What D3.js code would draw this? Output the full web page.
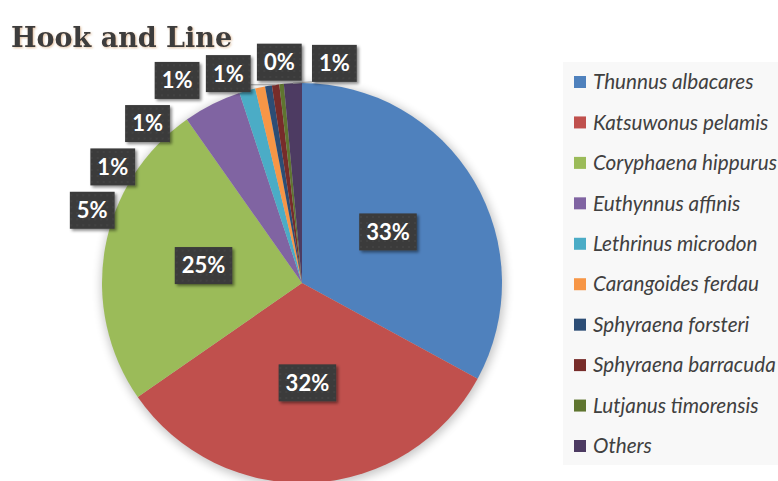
<!DOCTYPE html>
<html>
<head>
<meta charset="utf-8">
<script src="https://cdn.jsdelivr.net/npm/d3@7"></script>
<style>
  body { margin: 0; background: #fff; }
  svg { display: block; }
</style>
</head>
<body>
<div id="graph"><svg></svg></div>
<script>
// data (percent of catch)
let species = ["Thunnus albacares", "Katsuwonus pelamis", "Coryphaena hippurus",
  "Euthynnus affinis", "Lethrinus microdon", "Carangoides ferdau",
  "Sphyraena forsteri", "Sphyraena barracuda", "Lutjanus timorensis", "Others"];
let shares = [32.94, 32.4, 24.9, 4.7, 1.3, 0.8, 0.55, 0.6, 0.36, 1.45];
let colors = ["#4F81BD", "#C0504D", "#9BBB59", "#8064A2", "#4BACC6",
  "#F79646", "#2C4D75", "#772C2A", "#5F7530", "#4D3B62"];
let title = "Hook and Line";

let width = 778, height = 481;
let cx = 302, cy = 283, radius = 200;

let svg = d3.select("div#graph svg")
  .attr("width", width)
  .attr("height", height);

let defs = svg.append("defs");

// dotted dark fill for the data label boxes
let pat = defs.append("pattern")
  .attr("id", "dots")
  .attr("width", 6).attr("height", 6)
  .attr("patternUnits", "userSpaceOnUse");
pat.append("rect").attr("width", 6).attr("height", 6).attr("fill", "#3a3a3a");
pat.append("circle").attr("cx", 3).attr("cy", 3).attr("r", 0.8).attr("fill", "#4d4d4d");

let shadow = defs.append("filter").attr("id", "shadow")
  .attr("x", "-30%").attr("y", "-30%").attr("width", "160%").attr("height", "160%");
shadow.append("feDropShadow")
  .attr("dx", 2).attr("dy", 2).attr("stdDeviation", 1.8)
  .attr("flood-color", "#000").attr("flood-opacity", 0.45);

let glow = defs.append("filter").attr("id", "glow")
  .attr("x", "-20%").attr("y", "-20%").attr("width", "140%").attr("height", "140%");
glow.append("feGaussianBlur").attr("stdDeviation", 5);

let titleShadow = defs.append("filter").attr("id", "tshadow");
titleShadow.append("feDropShadow")
  .attr("dx", 1).attr("dy", 1).attr("stdDeviation", 0.8)
  .attr("flood-color", "#c08040").attr("flood-opacity", 0.5);

// title
svg.append("text")
  .attr("x", 11)
  .attr("y", 47)
  .style("font-family", "'DejaVu Serif', serif")
  .style("font-weight", "bold")
  .style("font-size", "27px")
  .style("fill", "#3c3c3c")
  .attr("filter", "url(#tshadow)")
  .text(title);

// legend
let legend = svg.append("g").attr("transform", "translate(563,62)");
legend.append("rect")
  .attr("width", width - 563)
  .attr("height", 403)
  .attr("fill", "#f8f8f8");

let rowScale = d3.scalePoint()
  .domain(species)
  .range([20, 384]);

let rows = legend.selectAll("g.row")
  .data(species)
  .enter()
  .append("g")
  .attr("class", "row")
  .attr("transform", (d) => "translate(0," + rowScale(d) + ")");

rows.append("rect")
  .attr("x", 11).attr("y", -6)
  .attr("width", 12).attr("height", 12)
  .attr("fill", (d, i) => colors[i]);

rows.append("text")
  .attr("x", 30)
  .attr("dy", "0.35em")
  .style("font-family", "Lato, sans-serif")
  .style("font-style", "italic")
  .style("font-size", "20.7px")
  .style("fill", "#404040")
  .text((d) => d);

// pie
let pie = d3.pie().sort(null).value((d) => d)(shares);
let total = d3.sum(shares);
let arc = d3.arc().innerRadius(0).outerRadius(radius);
let fmt = (v) => Math.round(v / total * 100) + "%";

let plot = svg.append("g").attr("transform", "translate(" + cx + "," + cy + ")");

plot.append("circle")
  .attr("r", radius + 2)
  .attr("cx", 1).attr("cy", 2)
  .attr("fill", "#000")
  .attr("opacity", 0.22)
  .attr("filter", "url(#glow)");

plot.selectAll("path.slice")
  .data(pie)
  .enter()
  .append("path")
  .attr("class", "slice")
  .attr("d", arc)
  .attr("fill", (d, i) => colors[i]);

// data label boxes
let padX = 7, boxH = 37, fontPx = 22;
let measure = svg.append("text")
  .style("font-family", "Lato, sans-serif")
  .style("font-weight", "bold")
  .style("font-size", fontPx + "px");

let labels = pie.map((d, i) => {
  measure.text(fmt(d.value));
  let w = measure.node().getComputedTextLength() + 2 * padX;
  return { d: d, i: i, text: fmt(d.value), w: w, h: boxH,
    mid: (d.startAngle + d.endAngle) / 2 };
});
measure.remove();

// big slices: label at the centroid
labels.filter((l) => l.d.value / total >= 0.1).forEach((l) => {
  let c = arc.centroid(l.d);
  l.x = c[0]; l.y = c[1];
});

// small slices: best-fit outside, walking counter-clockwise from the top
let small = labels.filter((l) => l.d.value / total < 0.1).reverse();
let deg = Math.PI / 180, gap = 6, placed = [];
function overlaps(a, b) {
  return Math.abs(a.x - b.x) < (a.w + b.w) / 2 + gap && Math.abs(a.y - b.y) < (a.h + b.h) / 2 + gap;
}
small.forEach((l, k) => {
  let start = (k === 0 ? l.mid + 11 * deg : l.mid) - 2 * Math.PI;
  let best = null;
  [222, 230, 238].forEach((r) => {
    let a = start;
    let p = { w: l.w, h: l.h, x: r * Math.sin(a), y: -r * Math.cos(a) };
    while (placed.some((q) => overlaps(p, q))) {
      a -= 0.2 * deg;
      p.x = r * Math.sin(a); p.y = -r * Math.cos(a);
    }
    let cost = (start - a) / deg + (r - 222) * 0.1;
    if (!best || cost < best.cost) best = { cost: cost, x: p.x, y: p.y };
  });
  l.x = best.x; l.y = best.y;
  placed.push(l);
});

// leader lines for labels that sit a little off their slice
small.forEach((l) => {
  let ex = radius * Math.sin(l.mid), ey = -radius * Math.cos(l.mid);
  let nx = Math.max(l.x - l.w / 2, Math.min(ex, l.x + l.w / 2));
  let ny = Math.max(l.y - l.h / 2, Math.min(ey, l.y + l.h / 2));
  let dist = Math.hypot(ex - nx, ey - ny);
  if (dist > 12 && dist < 45) {
    plot.append("line")
      .attr("x1", ex).attr("y1", ey)
      .attr("x2", nx).attr("y2", ny)
      .attr("stroke", "#a6a6a6")
      .attr("stroke-width", 1.2);
  }
});

let boxes = plot.selectAll("g.lbl")
  .data(labels)
  .enter()
  .append("g")
  .attr("class", "lbl")
  .attr("transform", (l) => "translate(" + l.x + "," + l.y + ")");

boxes.append("rect")
  .attr("x", (l) => -l.w / 2)
  .attr("y", (l) => -l.h / 2)
  .attr("width", (l) => l.w)
  .attr("height", (l) => l.h)
  .attr("fill", "url(#dots)")
  .attr("filter", "url(#shadow)");

boxes.append("text")
  .attr("text-anchor", "middle")
  .attr("dy", "0.36em")
  .style("font-family", "Lato, sans-serif")
  .style("font-weight", "bold")
  .style("font-size", fontPx + "px")
  .style("fill", "#fff")
  .text((l) => l.text);
</script>
</body>
</html>
